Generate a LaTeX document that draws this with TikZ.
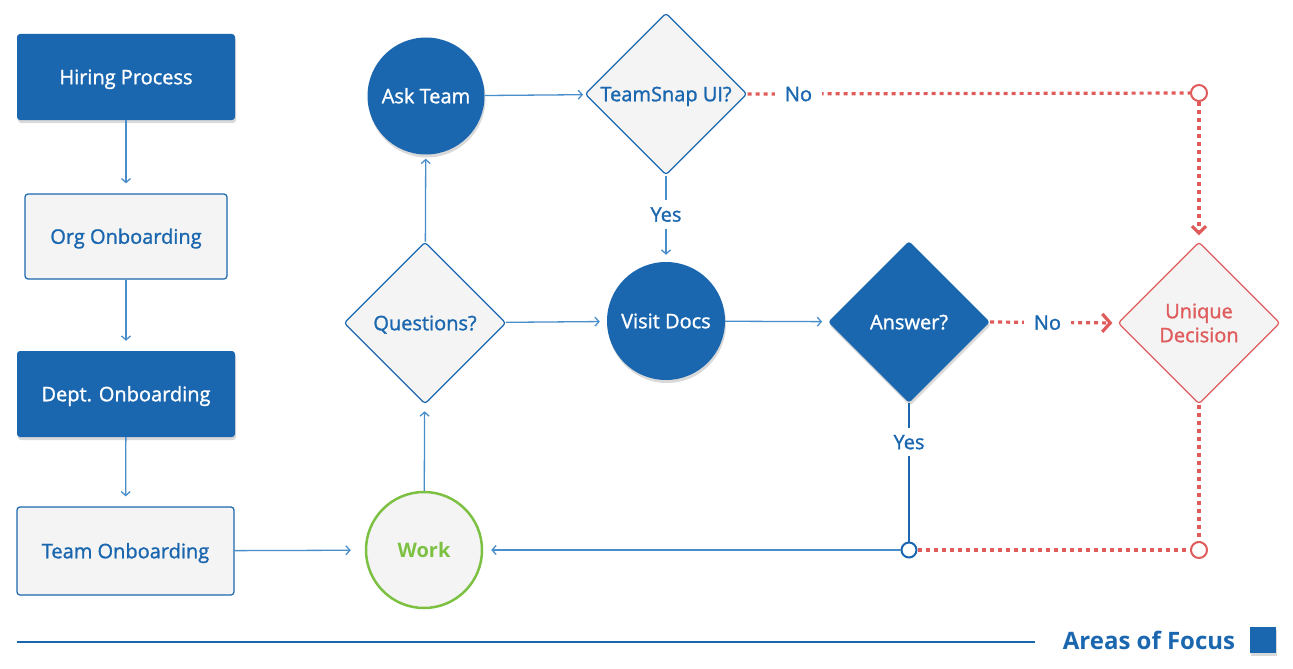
\documentclass[tikz,border=0pt]{standalone}
\usepackage{fontspec}
\setmainfont{Open Sans}
\newfontfamily\osemi{Open Sans}[FakeBold=1.3]
\usetikzlibrary{shapes.geometric,arrows.meta,shadows}
\definecolor{tblue}{HTML}{1A67B0}
\definecolor{lblue}{HTML}{4A8DCB}
\definecolor{lgray}{HTML}{F4F4F4}
\definecolor{tred}{HTML}{E05B5B}
\definecolor{tgreen}{HTML}{7DC142}
\begin{document}
\begin{tikzpicture}[x=1pt,y=-1pt,font=\osemi\fontsize{20}{24}\selectfont,
  shad/.style={drop shadow={opacity=0.3,shadow xshift=1pt,shadow yshift=-3pt}},
  ctext/.style={text height=14.5pt,text depth=0pt},
  darkbox/.style={rectangle,rounded corners=3pt,fill=tblue,text=white,minimum width=218pt,minimum height=86pt,shad,ctext},
  lightbox/.style={rectangle,rounded corners=3pt,fill=lgray,draw=tblue,line width=1.2pt,text=tblue,ctext},
  darkcirc/.style={circle,fill=tblue,text=white,inner sep=0pt,shad,ctext},
  dmd/.style={diamond,aspect=1,minimum width=162pt,minimum height=162pt,inner sep=0pt,rounded corners=3pt},
  lightdmd/.style={dmd,fill=lgray,draw=tblue,line width=1.2pt,text=tblue,ctext},
  junc/.style={circle,fill=white,line width=2pt,minimum size=15pt,inner sep=0pt},
  arr/.style={draw=lblue,line width=1.3pt,-{Straight Barb[length=4pt,width=9pt]}},
  reddot/.style={draw=tred,line width=3.2pt,dash pattern=on 4pt off 4pt},
  lbl/.style={fill=white,text=tblue,inner xsep=10pt,inner ysep=7pt,ctext}]
\useasboundingbox (0,0) rectangle (1293,669);
% left column
\node[darkbox] (hp) at (126,77) {Hiring Process};
\node[lightbox,minimum width=202pt,minimum height=85pt] (oo) at (126,236.5) {Org Onboarding};
\node[darkbox] (do) at (126,394) {Dept. Onboarding};
\node[lightbox,minimum width=217pt,minimum height=88pt] (to) at (125.5,551) {Team Onboarding};
% circles
\node[darkcirc,minimum size=117pt] (at) at (426,96) {Ask Team};
\node[circle,minimum size=116pt,inner sep=0pt,fill=lgray,draw=tgreen,line width=2.5pt,text=tgreen,ctext,font=\rmfamily\fontsize{20}{24}\selectfont\bfseries] (wk) at (424,550) {Work};
\node[darkcirc,minimum size=118pt] (vd) at (666,321) {Visit Docs};
% diamonds
\node[lightdmd] (qu) at (425,323) {Questions?};
\node[lightdmd] (ts) at (666,94) {TeamSnap UI?};
\node[dmd,fill=tblue,text=white,shad,ctext] (an) at (909,322) {Answer?};
\node[dmd,fill=lgray,draw=tred,line width=1.2pt,text=tred,align=center,font=\osemi\fontsize{20}{24}\selectfont] (ud) at (1199,323) {Unique\\Decision};
% junctions
\node[junc,draw=tblue] (j) at (909,550) {};
\node[junc,draw=tred,minimum size=16pt] (r1) at (1199,93) {};
\node[junc,draw=tred,minimum size=16pt] (r2) at (1199,550) {};
% blue connectors
\draw[arr,shorten >=10pt] (hp) -- (oo);
\draw[arr,shorten >=10pt] (oo) -- (do);
\draw[arr,shorten >=10pt] (do) -- (to);
\draw[arr,shorten >=14pt] (to) -- (wk);
\draw[arr,shorten >=7pt] (wk) -- (qu);
\draw[arr,shorten >=4pt] (qu) -- (at);
\draw[arr,shorten >=2pt] (at) -- (ts);
\draw[arr,shorten >=7pt] (ts) -- node[lbl,pos=0.45] {Yes} (vd);
\draw[arr,shorten >=7pt] (qu) -- (vd);
\draw[arr,shorten >=6pt] (vd) -- (an);
\draw[arr,shorten >=8pt] (j) -- (wk);
\draw[draw=tblue,line width=1.2pt] (an) -- node[lbl,pos=0.28] {Yes} (j);
% red connectors
\draw[reddot] (ts.east) -- node[lbl,pos=0.115] {No} (r1);
\draw[reddot,-{Straight Barb[length=7pt,width=14pt]},shorten >=6pt] (r1) -- (ud);
\draw[reddot,-{Straight Barb[length=8pt,width=18pt]},shorten >=5pt] (an.east) -- node[lbl,pos=0.45] {No} (ud.west);
\draw[reddot] (ud.south) -- (r2);
\draw[reddot] (j) -- (r2);
% legend
\coordinate (l1) at (17,642);
\coordinate (l2) at (1035,642);
\draw[tblue,line width=1.2pt] (l1) -- (l2);
\node[text=tblue,font=\rmfamily\fontsize{24}{28}\selectfont\bfseries] (aof) at (1149,640) {Areas of Focus};
\node[rectangle,fill=tblue,minimum size=26pt,inner sep=0pt,shad] (sq) at (1263,640) {};
\end{tikzpicture}
\end{document}
